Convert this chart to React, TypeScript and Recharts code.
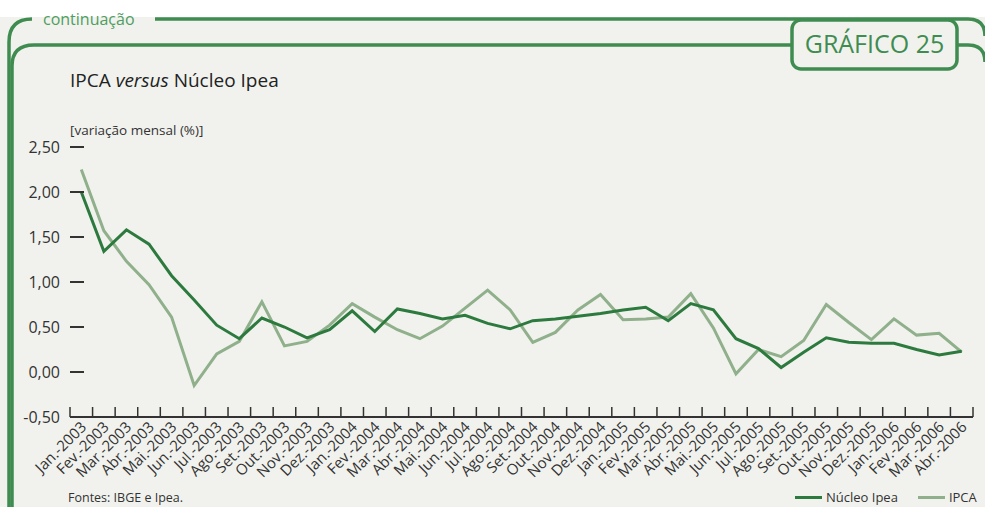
import { LineChart, Line, XAxis, YAxis, Legend } from "recharts";

const months = [
  "Jan.-2003", "Fev.-2003", "Mar.-2003", "Abr.-2003", "Mai.-2003", "Jun.-2003",
  "Jul.-2003", "Ago.-2003", "Set.-2003", "Out.-2003", "Nov.-2003", "Dez.-2003",
  "Jan.-2004", "Fev.-2004", "Mar.-2004", "Abr.-2004", "Mai.-2004", "Jun.-2004",
  "Jul.-2004", "Ago.-2004", "Set.-2004", "Out.-2004", "Nov.-2004", "Dez.-2004",
  "Jan.-2005", "Fev.-2005", "Mar.-2005", "Abr.-2005", "Mai.-2005", "Jun.-2005",
  "Jul.-2005", "Ago.-2005", "Set.-2005", "Out.-2005", "Nov.-2005", "Dez.-2005",
  "Jan.-2006", "Fev.-2006", "Mar.-2006", "Abr.-2006",
];

const nucleoIpea = [
  2.0, 1.34, 1.58, 1.42, 1.07, 0.8, 0.52, 0.37, 0.6, 0.5, 0.38, 0.47,
  0.68, 0.45, 0.7, 0.65, 0.59, 0.63, 0.54, 0.48, 0.57, 0.59, 0.62, 0.65,
  0.69, 0.72, 0.57, 0.76, 0.69, 0.37, 0.26, 0.05, 0.22, 0.38, 0.33, 0.32,
  0.32, 0.25, 0.19, 0.23,
];

const ipca = [
  2.25, 1.57, 1.23, 0.97, 0.61, -0.15, 0.2, 0.34, 0.78, 0.29, 0.34, 0.52,
  0.76, 0.61, 0.47, 0.37, 0.51, 0.71, 0.91, 0.69, 0.33, 0.44, 0.69, 0.86,
  0.58, 0.59, 0.61, 0.87, 0.49, -0.02, 0.25, 0.17, 0.35, 0.75, 0.55, 0.36,
  0.59, 0.41, 0.43, 0.22,
];

const yTicks = [-0.5, 0, 0.5, 1, 1.5, 2, 2.5];

const data = months.map((month, i) => ({
  month,
  nucleo: nucleoIpea[i],
  ipca: ipca[i],
}));

const W = 985;
const H = 507;
const PLOT_LEFT = 70;
const PLOT_RIGHT = 973;
const AXIS_Y = 417;
const BAND = (PLOT_RIGHT - PLOT_LEFT) / months.length;
const FONT = "'Open Sans', 'DejaVu Sans', sans-serif";
const TEXT = "#333";
const FRAME = "#3f8c50";
const DARK = "#2d7a3e";
const LIGHT = "#8fb08b";

const fmt = (v: number) => v.toFixed(2).replace(".", ",");

function YTick({ y, payload }: any) {
  const v = payload.value;
  return (
    <g>
      {v > -0.5 && (
        <line x1={PLOT_LEFT} x2={PLOT_LEFT + 14} y1={y} y2={y} stroke={TEXT} strokeWidth={2} />
      )}
      <text x={60} y={y} dy={5.5} textAnchor="end" fontSize={16} fill={TEXT} fontFamily={FONT}>
        {fmt(v)}
      </text>
    </g>
  );
}

// labels sit in the middle of each month, tick marks on the month boundaries
function XTick({ x, payload, index }: any) {
  const last = index === months.length - 1;
  return (
    <g>
      <line x1={x - BAND / 2} x2={x - BAND / 2} y1={AXIS_Y} y2={AXIS_Y - 10} stroke={TEXT} strokeWidth={1.5} />
      {last && (
        <line x1={x + BAND / 2} x2={x + BAND / 2} y1={AXIS_Y} y2={AXIS_Y - 10} stroke={TEXT} strokeWidth={1.5} />
      )}
      <text
        transform={`translate(${x + 6},${AXIS_Y + 11}) rotate(-45)`}
        textAnchor="end"
        fontSize={15}
        fill={TEXT}
        fontFamily={FONT}
      >
        {payload.value}
      </text>
    </g>
  );
}

function LegendContent({ payload }: any) {
  return (
    <div style={{ display: "flex", gap: 20, fontFamily: FONT, fontSize: 13, color: TEXT }}>
      {payload.map((p: any) => (
        <div key={p.value} style={{ display: "flex", alignItems: "center" }}>
          <span style={{ display: "inline-block", width: 27, height: 3, background: p.color, marginRight: 4 }} />
          {p.value}
        </div>
      ))}
    </div>
  );
}

function Frame() {
  return (
    <svg width={W} height={H} style={{ position: "absolute", left: 0, top: 0 }}>
      <rect x={0} y={0} width={W} height={17} fill="#ffffff" />
      <g fill="none" stroke={FRAME} strokeWidth={3.5}>
        <path d={`M 9 ${H} L 9 42 Q 9 19 32 19`} />
        <path d={`M 155 19 L 968 19 Q 985 19 985 36`} />
        <path d={`M 12 ${H} L 12 66 Q 12 45 34 45 L 792 45`} />
        <path d={`M 957 45 L 968 45 Q 985 45 985 62`} />
        <rect x={792} y={20} width={165} height={49} rx={9} ry={9} fill="#f1f2ee" />
      </g>
      <text x={43} y={25} fontSize={16} fill="#4f9d5f" fontFamily={FONT}>
        continuação
      </text>
      <text x={874.5} y={53} textAnchor="middle" fontSize={25} fill={FRAME} fontFamily={FONT}>
        GRÁFICO 25
      </text>
      <text x={70} y={87} fontSize={19} fill="#222" fontFamily={FONT}>
        IPCA <tspan fontStyle="italic">versus</tspan> Núcleo Ipea
      </text>
      <text x={70} y={135} fontSize={13.5} fill={TEXT} fontFamily={FONT}>
        [variação mensal (%)]
      </text>
      <text x={68} y={502} fontSize={12.5} fill={TEXT} fontFamily={FONT}>
        Fontes: IBGE e Ipea.
      </text>
    </svg>
  );
}

export default function App() {
  return (
    <div
      style={{
        position: "fixed",
        left: 0,
        top: 0,
        width: W,
        height: H,
        background: "#f1f2ee",
        overflow: "hidden",
      }}
    >
      <Frame />
      <div style={{ position: "absolute", left: 0, top: 0 }}>
        <LineChart
          width={W}
          height={H}
          data={data}
          margin={{ top: 147, right: W - PLOT_RIGHT, left: 10, bottom: 0 }}
        >
          <XAxis
            dataKey="month"
            interval={0}
            height={H - AXIS_Y}
            padding={{ left: BAND / 2, right: BAND / 2 }}
            axisLine={{ stroke: TEXT, strokeWidth: 2 }}
            tickLine={false}
            tick={<XTick />}
          />
          <YAxis
            width={60}
            domain={[-0.5, 2.5]}
            ticks={yTicks}
            axisLine={false}
            tickLine={false}
            tick={<YTick />}
          />
          <Line
            dataKey="ipca"
            name="IPCA"
            stroke={LIGHT}
            strokeWidth={3}
            dot={false}
            isAnimationActive={false}
          />
          <Line
            dataKey="nucleo"
            name="Núcleo Ipea"
            stroke={DARK}
            strokeWidth={3}
            dot={false}
            isAnimationActive={false}
          />
          <Legend
            layout="horizontal"
            verticalAlign="middle"
            align="center"
            itemSorter={(item: any) => (item.value === "IPCA" ? 1 : 0)}
            content={<LegendContent />}
            wrapperStyle={{ left: 795, top: 488, width: 190, height: 18 }}
          />
        </LineChart>
      </div>
    </div>
  );
}
